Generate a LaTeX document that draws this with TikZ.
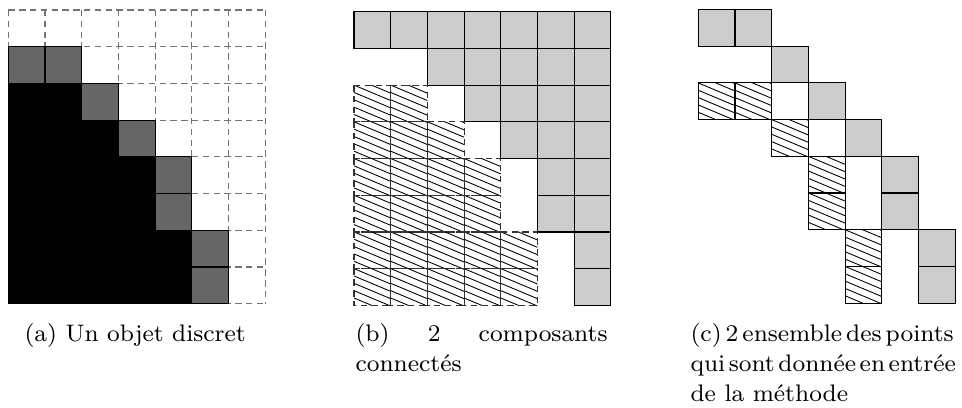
\documentclass[tikz,border=0pt]{standalone}
\begin{document}
\begin{tikzpicture}[x=0.3425pt,y=-0.3425pt,
  gridd/.style={draw=black!55,line width=0.4pt,dash pattern=on 2.2pt off 1.5pt},
  blk/.style={fill=black,draw=black,line width=0.4pt},
  dgray/.style={fill=black!60,draw=black,line width=0.4pt},
  lgray/.style={fill=black!20,draw=black,line width=0.4pt},
  hline/.style={draw=black,line width=0.3pt},
  hbord/.style={draw=black,line width=0.4pt},
  hbordd/.style={draw=black!80,line width=0.4pt,dash pattern=on 2.2pt off 1.5pt},
  captxt/.style={font=\fontsize{8.2}{10.3}\selectfont,inner sep=0pt,anchor=base west}]
\def\cs{36.7}
\useasboundingbox[fill=white] (0,0) rectangle (962,407);
\newcommand\hatchcell[3]{%
  \begin{scope}
    \clip (#1,#2) rectangle ++(\cs,\cs);
    \foreach \k in {-3,...,5} \draw[hline] (#1,{#2+\k*7.34}) -- ++(\cs,{0.42*\cs});
  \end{scope}
  \draw[#3] (#1,#2) rectangle ++(\cs,\cs);}
% ---------- panel (a) ----------
\def\ax{8.3}\def\ay{10}
\foreach \i in {0,...,7}
  \draw[gridd] ({\ax+\i*\cs},\ay) -- ({\ax+\i*\cs},{\ay+8*\cs});
\foreach \j in {0,...,8}
  \draw[gridd] (\ax,{\ay+\j*\cs}) -- ({\ax+7*\cs},{\ay+\j*\cs});
\foreach \r/\n in {2/1,3/2,4/3,5/3,6/4,7/4}
  \foreach \c in {0,...,\n}
    \draw[blk] ({\ax+\c*\cs},{\ay+\r*\cs}) rectangle ++(\cs,\cs);
\foreach \r/\c in {1/0,1/1,2/2,3/3,4/4,5/4,6/5,7/5}
  \draw[dgray] ({\ax+\c*\cs},{\ay+\r*\cs}) rectangle ++(\cs,\cs);
% ---------- panel (b) ----------
\def\bx{354}\def\by{11.7}
\foreach \r/\a/\n in {0/0/6,1/2/6,2/3/6,3/4/6,4/5/6,5/5/6,6/6/6,7/6/6}
  \foreach \c in {\a,...,\n}
    \draw[lgray] ({\bx+\c*\cs},{\by+\r*\cs}) rectangle ++(\cs,\cs);
\foreach \r/\n in {2/1,3/2,4/3,5/3,6/4,7/4}
  \foreach \c in {0,...,\n}{
    \pgfmathsetmacro\xx{\bx+\c*\cs}\pgfmathsetmacro\yy{\by+\r*\cs}
    \hatchcell{\xx}{\yy}{hbordd}}
% ---------- panel (c) ----------
\def\cx{698.3}\def\cy{9.5}
\foreach \r/\c in {0/0,0/1,1/2,2/3,3/4,4/5,5/5,6/6,7/6}
  \draw[lgray] ({\cx+\c*\cs},{\cy+\r*\cs}) rectangle ++(\cs,\cs);
\foreach \r/\c in {2/0,2/1,3/2,4/3,5/3,6/4,7/4}{
  \pgfmathsetmacro\xx{\cx+\c*\cs}\pgfmathsetmacro\yy{\cy+\r*\cs}
  \hatchcell{\xx}{\yy}{hbord}}
% ---------- captions ----------
\node[captxt] (capa) at (24,341) {(a) Un objet discret};
\node[captxt] (capb1) at (355,341) {\makebox[86.3pt][s]{(b) 2 composants}};
\node[captxt] (capb2) at (355,371) {connectés};
\node[captxt] (capc1) at (690,341) {\spaceskip=0.2em plus 1em minus 0.05em\makebox[90.1pt][s]{(c) 2 ensemble des points}};
\node[captxt] (capc2) at (690,371) {\spaceskip=0.2em plus 1em minus 0.05em\makebox[90.1pt][s]{qui sont donnée en entrée}};
\node[captxt] (capc3) at (690,401) {de la méthode};
\end{tikzpicture}
\end{document}
